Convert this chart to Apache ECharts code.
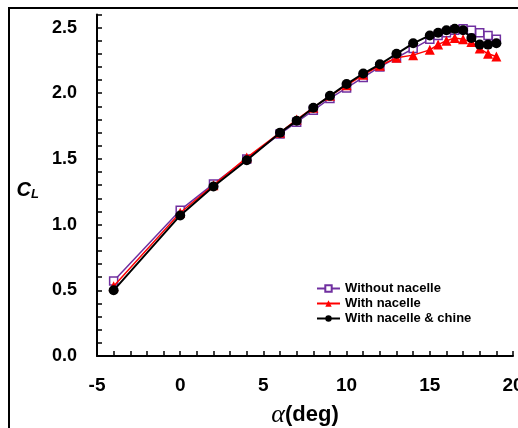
<!DOCTYPE html>
<html>
<head>
<meta charset="utf-8">
<script src="https://cdn.jsdelivr.net/npm/echarts@6/dist/echarts.min.js"></script>
<style>html,body{margin:0;padding:0;background:#fff;}#c{width:518px;height:428px;}</style>
</head>
<body>
<div id="c"></div>
<script>
const alpha = [-4, 0, 2, 4, 6, 7, 8, 9, 10, 11, 12, 13, 14, 15, 15.5, 16, 16.5, 17, 17.5, 18, 18.5, 19];
const withoutNacelle = [0.57, 1.11, 1.31, 1.50, 1.69, 1.78, 1.87, 1.96, 2.04, 2.12, 2.20, 2.27, 2.34, 2.41, 2.44, 2.46, 2.48, 2.49, 2.48, 2.46, 2.44, 2.41];
const withNacelle = [0.53, 1.09, 1.30, 1.51, 1.70, 1.80, 1.89, 1.98, 2.06, 2.14, 2.21, 2.27, 2.29, 2.33, 2.37, 2.40, 2.42, 2.41, 2.39, 2.34, 2.30, 2.28];
const withChine = [0.50, 1.07, 1.29, 1.49, 1.70, 1.79, 1.89, 1.98, 2.07, 2.15, 2.22, 2.30, 2.38, 2.44, 2.46, 2.48, 2.49, 2.48, 2.42, 2.37, 2.37, 2.38];
const seriesNames = ['Without nacelle', 'With nacelle', 'With nacelle & chine'];
const xTickLabels = [-5, 0, 5, 10, 15, 20];
const yTickLabels = [0.0, 0.5, 1.0, 1.5, 2.0, 2.5];

const pairs = v => alpha.map((a, i) => [a, v[i]]);
const chart = echarts.init(document.getElementById('c'), null, {renderer: 'canvas'});
const F = '"Liberation Sans", Arial, sans-serif';
chart.setOption({
  animation: false,
  backgroundColor: '#fff',
  grid: {left: 97, right: 5, top: 14.4, bottom: 72, containLabel: false, outerBoundsMode: 'none'},
  xAxis: {
    type: 'value', min: -5, max: 20, interval: 1,
    axisLine: {show: true, onZero: false, lineStyle: {color: '#000', width: 2}},
    axisTick: {show: true, inside: true, length: 5, lineStyle: {color: '#000', width: 1.5}},
    splitLine: {show: false},
    axisLabel: {
      margin: 20, color: '#000', fontFamily: F, fontWeight: 'bold', fontSize: 19,
      hideOverlap: false,
      formatter: v => xTickLabels.some(t => Math.abs(t - v) < 1e-6) ? String(Math.round(v)) : ''
    },
    name: '{a|α}{b|(deg)}', nameLocation: 'middle', nameGap: 46,
    nameTextStyle: {
      rich: {
        a: {fontFamily: '"Liberation Serif", "DejaVu Serif", serif', fontStyle: 'italic', fontSize: 26, color: '#000'},
        b: {fontFamily: F, fontWeight: 'bold', fontSize: 22, color: '#000'}
      }
    }
  },
  yAxis: {
    type: 'value', min: 0, max: 2.6, interval: 0.1,
    axisLine: {show: true, onZero: false, lineStyle: {color: '#000', width: 2}},
    axisTick: {show: true, inside: true, length: 5, lineStyle: {color: '#000', width: 1.5}},
    splitLine: {show: false},
    axisLabel: {
      margin: 20, color: '#000', fontFamily: F, fontWeight: 'bold', fontSize: 18,
      formatter: v => yTickLabels.some(t => Math.abs(t - v) < 1e-6) ? v.toFixed(1) : ''
    },
    name: '{c|C}{l|L}', nameLocation: 'middle', nameRotate: 0, nameGap: 58,
    nameTextStyle: {
      padding: [10, 0, 0, 0],
      rich: {
        c: {fontFamily: F, fontWeight: 'bold', fontStyle: 'italic', fontSize: 20, color: '#000'},
        l: {fontFamily: F, fontWeight: 'bold', fontStyle: 'italic', fontSize: 13, color: '#000', verticalAlign: 'bottom', padding: [8, 0, 0, 0]}
      }
    }
  },
  legend: {
    orient: 'vertical', left: 311, top: 277, itemWidth: 23, itemHeight: 8, itemGap: 2,
    textStyle: {fontFamily: F, fontWeight: 'bold', fontSize: 13, color: '#000'},
    data: seriesNames
  },
  graphic: [{
    type: 'rect', shape: {x: 9, y: 8, width: 520, height: 430},
    style: {fill: 'none', stroke: '#000', lineWidth: 2}, silent: true, z: 100
  }],
  series: [
    {
      name: seriesNames[0], type: 'line', data: pairs(withoutNacelle), z: 2,
      symbol: 'rect', symbolSize: 8, showAllSymbol: true,
      lineStyle: {color: '#7030A0', width: 1.5},
      itemStyle: {color: '#fff', borderColor: '#7030A0', borderWidth: 1.5}
    },
    {
      name: seriesNames[1], type: 'line', data: pairs(withNacelle), z: 3,
      symbol: 'triangle', symbolSize: 10, showAllSymbol: true,
      lineStyle: {color: '#FF0000', width: 1.5},
      itemStyle: {color: '#FF0000'}
    },
    {
      name: seriesNames[2], type: 'line', data: pairs(withChine), z: 4,
      symbol: 'circle', symbolSize: 10, showAllSymbol: true,
      lineStyle: {color: '#000', width: 2},
      itemStyle: {color: '#000'}
    }
  ]
});
</script>
</body>
</html>
